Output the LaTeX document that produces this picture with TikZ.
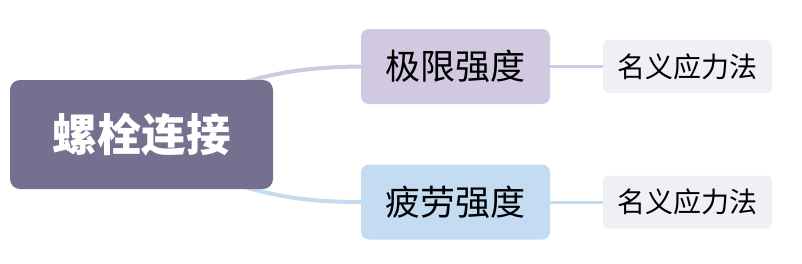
\documentclass[tikz,border=0pt]{standalone}
\usepackage{fontspec}
\setmainfont{Noto Sans CJK SC}
\newfontfamily\cjk{Noto Sans CJK SC}
\usetikzlibrary{backgrounds}
\definecolor{rootfill}{HTML}{767090}
\definecolor{upfill}{HTML}{D1C9E0}
\definecolor{lowfill}{HTML}{C4DCF2}
\definecolor{leaffill}{HTML}{F0EFF6}
\tikzset{
  root/.style={rounded corners=10pt,fill=rootfill,text=white,minimum width=263pt,minimum height=109pt,inner sep=0pt,font=\cjk\bfseries\fontsize{44.5}{52}\selectfont},
  branch/.style={rounded corners=8pt,minimum width=189pt,minimum height=75pt,inner sep=0pt,font=\cjk\fontsize{35}{42}\selectfont},
  leaf/.style={rounded corners=6pt,fill=leaffill,minimum width=169pt,minimum height=53pt,inner sep=0pt,font=\cjk\fontsize{28}{33}\selectfont},
  curvelink/.style={line width=4pt},
  leaflink/.style={line width=3pt},
}
\begin{document}
\begin{tikzpicture}[x=1pt,y=-1pt]
    \useasboundingbox (0,0) rectangle (802,263);
    % root and main branches
    \node[root] (bolt) at (141.5,134.5) {螺栓连接};
    \node[branch,fill=upfill] (ultimate) at (455.5,66.5) {极限强度};
    \node[branch,fill=lowfill] (fatigue) at (455.5,202) {疲劳强度};
    % leaves
    \node[leaf] (nomup) at (687.5,66.5) {名义应力法};
    \node[leaf] (nomlow) at (687.5,202) {名义应力法};
    % connectors behind the boxes
    \begin{scope}[on background layer]
      \draw[curvelink,upfill] ([xshift=-40pt,yshift=-6pt]bolt.north east) .. controls (280,70) and (320,67) .. (ultimate.west);
      \draw[curvelink,lowfill] ([xshift=-40pt,yshift=6pt]bolt.south east) .. controls (280,199) and (320,202) .. (fatigue.west);
      \draw[leaflink,upfill] (ultimate.east) -- (nomup.west);
      \draw[leaflink,lowfill] (fatigue.east) -- (nomlow.west);
    \end{scope}
  \end{tikzpicture}
\end{document}
